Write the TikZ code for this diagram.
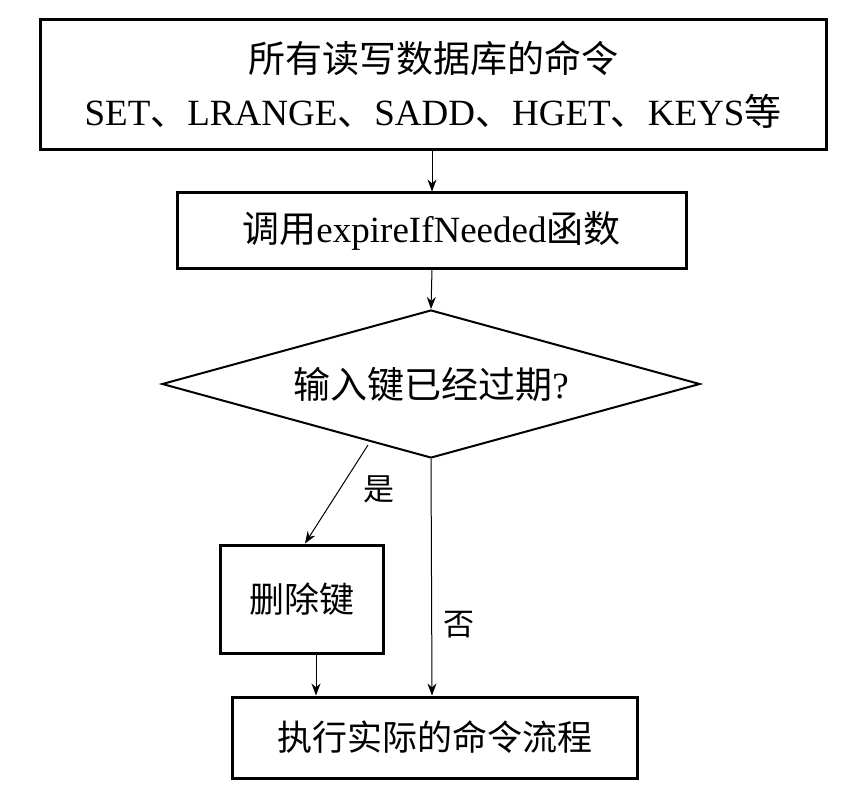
\documentclass[tikz,border=0pt]{standalone}
\usepackage{fontspec}
\setmainfont{Liberation Serif}
\newfontfamily\cjk{Noto Sans CJK SC}
\usetikzlibrary{shapes.geometric,arrows.meta}
\begin{document}
\begin{tikzpicture}[x=1pt,y=-1pt,
  bx/.style={draw,line width=3pt,inner sep=0pt,font=\fontsize{37}{53}\selectfont},
  ar/.style={-{Stealth[length=12pt,width=9pt]},line width=1pt},
  lb/.style={font=\cjk\fontsize{31}{34}\selectfont}]
\useasboundingbox (0,0) rectangle (866,794);
\node[bx,minimum width=786pt,minimum height=130pt,align=center] (a) at (433,85)
  {{\cjk 所有读写数据库的命令}\\SET{\cjk 、}LRANGE{\cjk 、}SADD{\cjk 、}HGET{\cjk 、}KEYS{\cjk 等}};
\node[bx,minimum width=509pt,minimum height=75pt] (b) at (431.5,230.5) {{\cjk 调用}expireIfNeeded{\cjk 函数}};
\node[draw,line width=2pt,diamond,aspect=3.63,minimum width=538pt,minimum height=148pt,inner sep=0pt,font=\fontsize{37}{40}\selectfont] (c) at (431,384) {{\cjk 输入键已经过期}?};
\node[bx,minimum width=163pt,minimum height=108pt,font=\cjk\fontsize{35}{38}\selectfont] (d) at (301.5,599) {删除键};
\node[bx,minimum width=405pt,minimum height=81pt,font=\cjk\fontsize{35}{38}\selectfont] (e) at (434.5,737.5) {执行实际的命令流程};
\draw[ar] (a.south -| 432,0) -- (b.north -| 432,0);
\draw[ar] (b.south -| 432,0) -- (c.north);
\coordinate (s) at (368,445);
\draw[ar] (s) -- (d.north -| 305,0) node[lb,pos=0.45,right=20pt] {是};
\draw[ar] (c.south) -- (e.north -| 432,0) node[lb,pos=0.7,right=8pt] {否};
\draw[ar] (d.south -| 316,0) -- (e.north -| 316,0);
\end{tikzpicture}
\end{document}
